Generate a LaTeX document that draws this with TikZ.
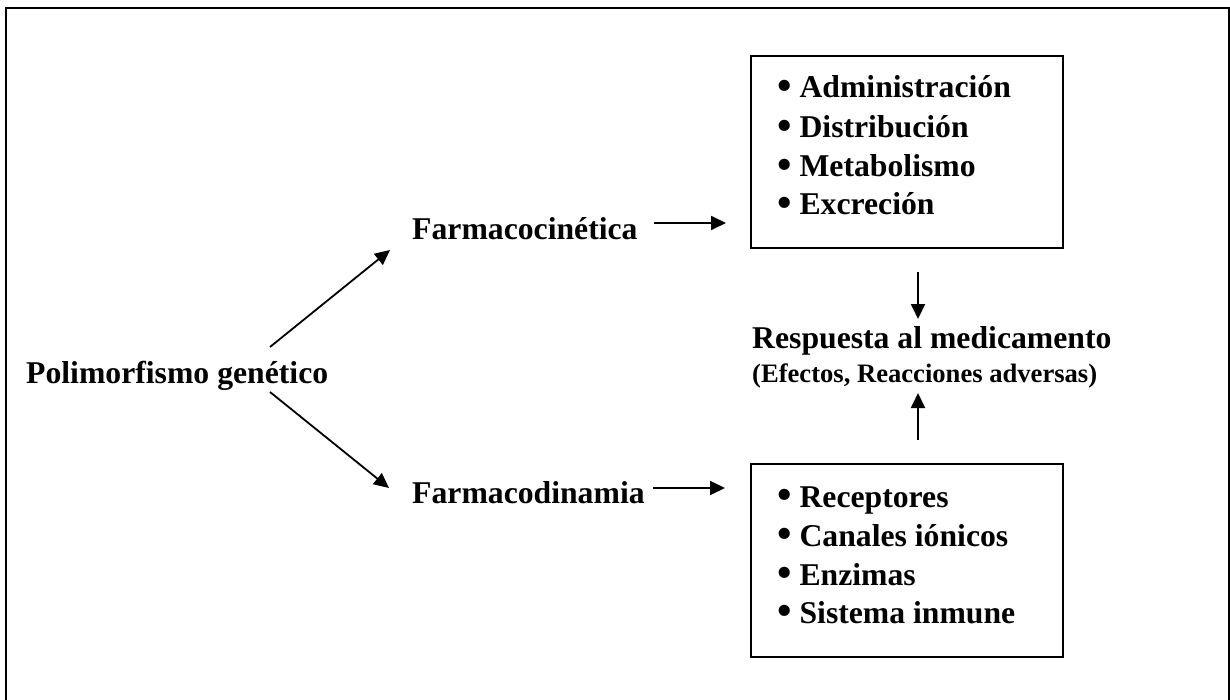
\documentclass[tikz,border=0pt]{standalone}
\usepackage{fontspec}
\setmainfont{Liberation Serif}
\usetikzlibrary{arrows.meta}
\newcommand{\mybul}{\raisebox{-0.04em}{\scalebox{1.3}{\textbullet}}}
\tikzset{
  lbl/.style={font=\bfseries\fontsize{31.7}{39}\selectfont, inner sep=0pt, anchor=base west},
  sublbl/.style={font=\bfseries\fontsize{26.6}{32}\selectfont, inner sep=0pt, anchor=base west},
  listbox/.style={draw, line width=2.2pt, inner sep=0pt, anchor=north west, minimum width=312pt, minimum height=192pt},
  arr/.style={line width=1.8pt, -{Triangle[length=15pt,width=14pt]}},
  frameline/.style={line width=2.5pt}
}
\begin{document}
\begin{tikzpicture}[x=1pt,y=-1pt]
\useasboundingbox (0,0) rectangle (1230,700);
\clip (0,0) rectangle (1230,700);
\draw[frameline] (6,712) -- (6,8) -- (1229,8) -- (1229,712);

% boxes
\node[listbox] (pk) at (750,55) {};
\node[listbox, minimum height=193pt] (pd) at (750,463) {};

% texts
\node[lbl] (pg) at (26,383) {Polimorfismo genético};
\node[lbl] (fc) at (412,240) {Farmacocinética};
\node[lbl] (fd) at (412,503) {Farmacodinamia};
\node[lbl] (r1) at (752,348) {Respuesta al medicamento};
\node[sublbl] (r2) at (752,382) {(Efectos, Reacciones adversas)};

\node[lbl] (a1) at (777,98) {\mybul{} Administración};
\node[lbl] (a2) at (777,138) {\mybul{} Distribución};
\node[lbl] (a3) at (777,177) {\mybul{} Metabolismo};
\node[lbl] (a4) at (777,215) {\mybul{} Excreción};

\node[lbl] (b1) at (777,507) {\mybul{} Receptores};
\node[lbl] (b2) at (777,546) {\mybul{} Canales iónicos};
\node[lbl] (b3) at (777,585) {\mybul{} Enzimas};
\node[lbl] (b4) at (777,623) {\mybul{} Sistema inmune};

% connector ends
\coordinate (pgup) at (270,347);
\coordinate (pgdn) at (270,392);
\coordinate (fcin) at (390,250);
\coordinate (fdin) at (389,488);
\coordinate (fcout) at (654,223);
\coordinate (pkin) at (726,223);
\coordinate (fdout) at (653,488);
\coordinate (pdin) at (725,488);
\coordinate (pkout) at (918,272);
\coordinate (rtop) at (918,319);
\coordinate (pdout) at (918,440);
\coordinate (rbot) at (918,393);

\draw[arr] (pgup) -- (fcin);
\draw[arr] (pgdn) -- (fdin);
\draw[arr] (fcout) -- (pkin);
\draw[arr] (fdout) -- (pdin);
\draw[arr] (pkout) -- (rtop);
\draw[arr] (pdout) -- (rbot);
\end{tikzpicture}
\end{document}
